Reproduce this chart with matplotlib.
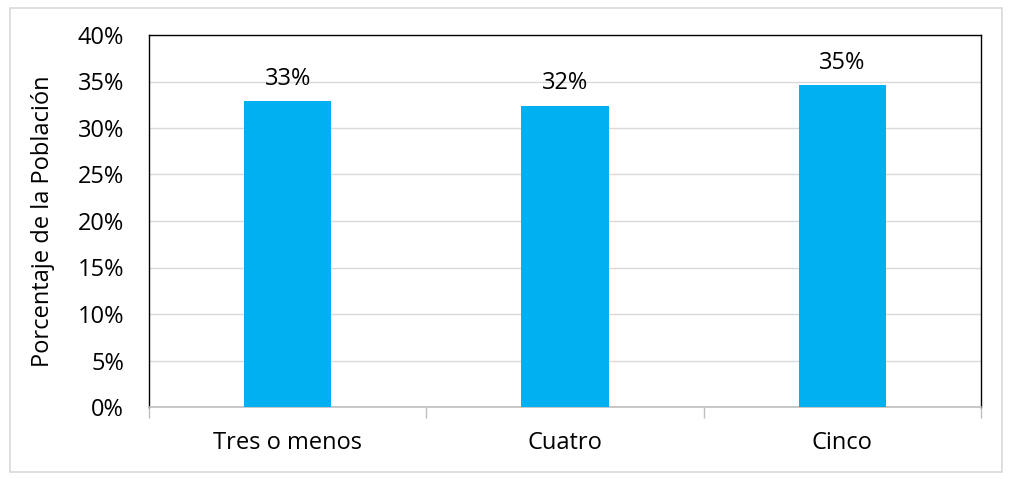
import matplotlib.pyplot as plt
from matplotlib.patches import Rectangle
from matplotlib.ticker import FixedLocator, PercentFormatter

# data
categories = ["Tres o menos", "Cuatro", "Cinco"]
values = [32.9, 32.4, 34.6]
labels = ["33%", "32%", "35%"]

plt.rcParams['font.family'] = ['Open Sans', 'DejaVu Sans']

fig = plt.figure(figsize=(10.11, 4.79), dpi=100)
ax = fig.add_axes([149 / 1011, 1 - 407 / 479, 832 / 1011, 372 / 479])

# outer chart border
fig.patches.append(Rectangle((10 / 1011, 1 - 472 / 479), 992 / 1011, 464 / 479,
                             transform=fig.transFigure, fill=False,
                             edgecolor="#d9d9d9", linewidth=1.2))

x = range(len(categories))
ax.bar(x, values, width=0.314, color="#00b0f0", zorder=3)
for i, v in enumerate(values):
    ax.text(i, v + 1.1, labels[i], ha="center", va="bottom", fontsize=17)

ax.set_xlim(-0.5, len(categories) - 0.5)
ax.set_ylim(0, 40)
ax.set_yticks(range(0, 41, 5))
ax.yaxis.set_major_formatter(PercentFormatter(decimals=0))
ax.set_xticks(list(x))
ax.set_xticklabels(categories)
ax.xaxis.set_minor_locator(FixedLocator([-0.5, 0.5, 1.5, 2.5]))
ax.tick_params(axis="x", which="major", length=0, pad=17, labelsize=17)
ax.tick_params(axis="x", which="minor", length=8, color="#bfbfbf", width=1)
ax.tick_params(axis="y", length=0, pad=18, labelsize=17)
ax.grid(axis="y", color="#d9d9d9", linewidth=1, zorder=0)

for s in ["left", "top", "right"]:
    ax.spines[s].set_color("black")
    ax.spines[s].set_linewidth(1)
ax.spines["bottom"].set_color("#bfbfbf")
ax.spines["bottom"].set_linewidth(1.2)

ax.set_ylabel("Porcentaje de la Población", fontsize=17, labelpad=16)

fig.savefig("out.png", dpi=100)
